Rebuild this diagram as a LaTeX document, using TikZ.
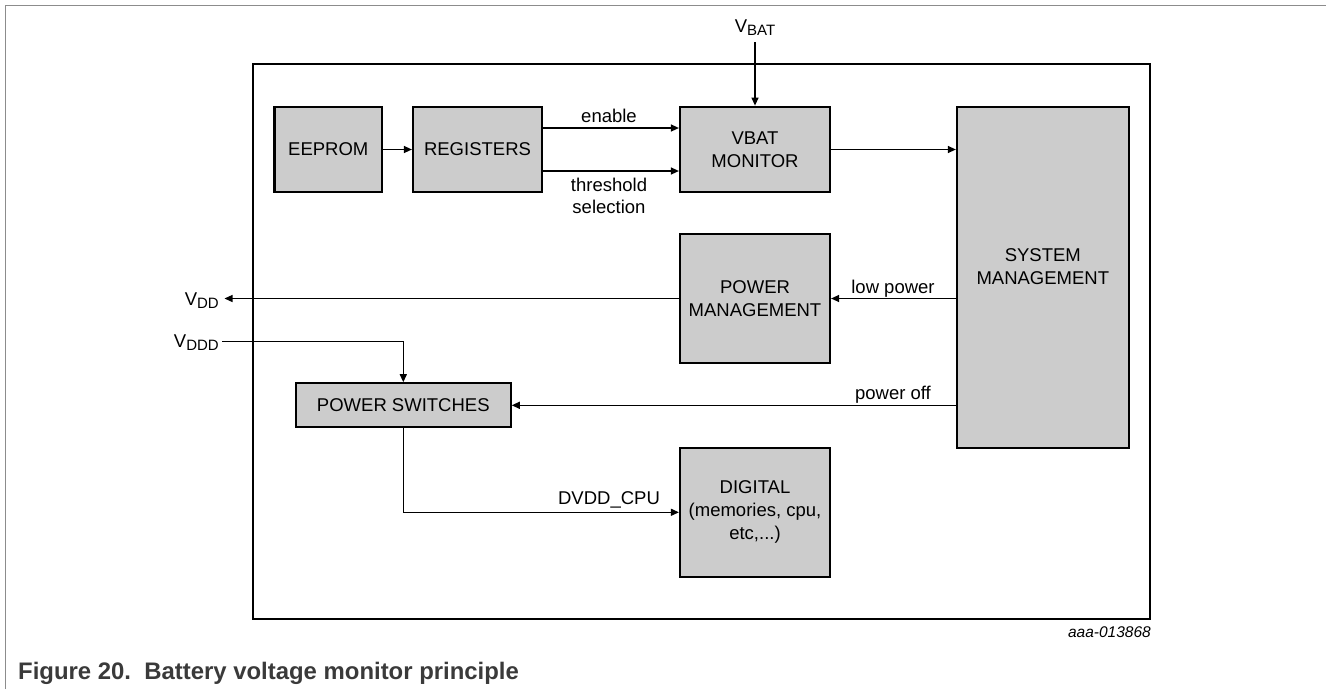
\documentclass[tikz,border=0pt]{standalone}
\usepackage{fontspec}
\setmainfont{Liberation Sans}
\usetikzlibrary{arrows.meta}
\definecolor{boxfill}{HTML}{CCCCCC}
\definecolor{framegray}{HTML}{8C8C8C}
\definecolor{captiongray}{HTML}{3A3A3A}
\newcommand{\vsub}[1]{V\raisebox{-3pt}{\fontsize{15}{15}\selectfont #1}}
\begin{document}
\begin{tikzpicture}[x=1pt,y=-1pt,
  boxtext/.style={font=\fontsize{18.5}{23}\selectfont, align=center},
  blk/.style={draw=black, line width=2.2pt, fill=boxfill, inner sep=0pt, boxtext},
  sig/.style={line width=1.3pt, -{Triangle[length=8pt,width=7pt]}},
  lbl/.style={font=\fontsize{18.5}{21.6}\selectfont, inner sep=0pt},
]
\useasboundingbox (0,0) rectangle (1326,689);
\draw[framegray, line width=1.4pt] (5.4,689) -- (5.4,5.7) -- (1326,5.7);
\node[draw=black, line width=2.3pt, minimum width=897pt, minimum height=554.4pt, inner sep=0pt] (chip) at (701.5,341.5) {};

\node[blk, minimum width=107.5pt, minimum height=85.6pt] (eep) at (328.3,149.5) {EEPROM};
\node[blk, minimum width=129pt, minimum height=85.6pt] (reg) at (477.5,149.5) {REGISTERS};
\node[blk, minimum width=150pt, minimum height=85.6pt] (vbat) at (755,149.5) {VBAT\\MONITOR};
\node[blk, minimum width=171.7pt, minimum height=341.6pt,
  label={[boxtext, inner sep=0pt, yshift=10.5pt]center:SYSTEM\\MANAGEMENT}] (sys) at (1042.8,277.5) {};
\node[blk, minimum width=150pt, minimum height=129pt] (pm) at (755,298.5) {POWER\\MANAGEMENT};
\node[blk, minimum width=214.7pt, minimum height=44pt] (ps) at (403.3,405.3) {POWER SWITCHES};
\node[blk, minimum width=150pt, minimum height=129.3pt] (dig) at (755,512.3) {DIGITAL\\(memories, cpu,\\etc,...)};

\draw[sig] (eep) -- (reg);
\draw[sig] ([yshift=21.5pt]reg.east) -- ([yshift=21.5pt]vbat.west);
\draw[sig] ([yshift=-21.5pt]reg.east) -- ([yshift=-21.5pt]vbat.west);
\node[lbl, anchor=base] (enl) at (609,122.5) {enable};
\node[lbl, align=center] (thl) at (609,196) {threshold\\selection};

\coordinate (vbin) at (755,42);
\draw[sig] (vbin) -- (vbat.north);
\node[lbl, anchor=base] (vbl) at (755,32.3) {\vsub{BAT}};

\draw[sig] (vbat.east) -- (vbat.east -| sys.west);

\draw[sig] (sys.west |- pm.east) -- (pm.east);
\node[lbl, anchor=base] (lpl) at (893,293) {low power};

\coordinate (vddtip) at (224.5,298.5);
\draw[sig] (pm.west) -- (vddtip);
\node[lbl, anchor=base east] (vddl) at (219,305) {\vsub{DD}};

\coordinate (vdddin) at (222,341.7);
\draw[sig] (vdddin) -| (ps.north);
\node[lbl, anchor=base east] (vdddl) at (219,347) {\vsub{DDD}};

\draw[sig] (sys.west |- ps.east) -- (ps.east);
\node[lbl, anchor=base] (pol) at (893,399.3) {power off};

\draw[sig] (ps.south) |- (dig.west);
\node[lbl, anchor=base] (dvl) at (609,504.3) {DVDD\_CPU};

\node[anchor=base east, inner sep=0pt, font=\itshape\fontsize{15.5}{18}\selectfont] (ref) at (1151,637.7) {aaa-013868};
\node[anchor=base west, inner sep=0pt, text=captiongray, font=\bfseries\fontsize{23.9}{26}\selectfont] (cap) at (18,679.3) {Figure 20.\ \ Battery voltage monitor principle};
\end{tikzpicture}
\end{document}
